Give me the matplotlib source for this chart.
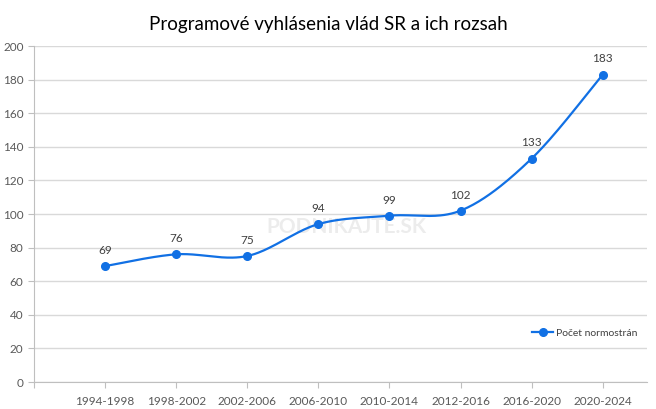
import numpy as np
import matplotlib
matplotlib.use("Agg")
import matplotlib.pyplot as plt

categories = ["1994-1998", "1998-2002", "2002-2006", "2006-2010",
              "2010-2014", "2012-2016", "2016-2020", "2020-2024"]
values = [69, 76, 75, 94, 99, 102, 133, 183]
y_ticks = [0, 20, 40, 60, 80, 100, 120, 140, 160, 180, 200]
series_name = "Počet normostrán"
title = "Programové vyhlásenia vlád SR a ich rozsah"

plt.rcParams['font.family'] = ['Lato', 'DejaVu Sans']

fig = plt.figure(figsize=(6.56, 4.09), dpi=100)
ax = fig.add_axes([0.0518, 0.066, 0.9342, 0.8215])

x = np.arange(len(values), dtype=float)
y = np.array(values, dtype=float)

# Excel-like smoothed line (Catmull-Rom bezier)
def smooth(xs, ys, n=40):
    px, py = [], []
    N = len(xs)
    for i in range(N - 1):
        p0 = (xs[max(i - 1, 0)], ys[max(i - 1, 0)])
        p1 = (xs[i], ys[i])
        p2 = (xs[i + 1], ys[i + 1])
        p3 = (xs[min(i + 2, N - 1)], ys[min(i + 2, N - 1)])
        c1 = (p1[0] + (p2[0] - p0[0]) / 6, p1[1] + (p2[1] - p0[1]) / 6)
        c2 = (p2[0] - (p3[0] - p1[0]) / 6, p2[1] - (p3[1] - p1[1]) / 6)
        t = np.linspace(0, 1, n)
        bx = (1-t)**3*p1[0] + 3*(1-t)**2*t*c1[0] + 3*(1-t)*t**2*c2[0] + t**3*p2[0]
        by = (1-t)**3*p1[1] + 3*(1-t)**2*t*c1[1] + 3*(1-t)*t**2*c2[1] + t**3*p2[1]
        px.extend(bx)
        py.extend(by)
    return np.array(px), np.array(py)

color = '#1170e4'
sx, sy = smooth(x, y)
ax.plot(sx, sy, color=color, lw=1.6, zorder=3)
ax.plot(x, y, 'o', color=color, ms=5.5, zorder=4)
ax.plot([], [], '-o', color=color, lw=1.6, ms=5.5, label=series_name)

for xi, yi in zip(x, y):
    ax.text(xi, yi + 6, str(int(yi)), ha='center', va='bottom', fontsize=8.5, color='#404040')

ax.set_xlim(-1, 7.62)
ax.set_ylim(0, 200)
ax.set_yticks(y_ticks)
ax.set_yticklabels([str(v) for v in y_ticks])
ax.set_xticks(np.arange(-1, len(values)))
ax.set_xticklabels([""] + categories)
ax.grid(axis='y', color='#d9d9d9', lw=1)
ax.set_axisbelow(True)
for s in ['top', 'right']:
    ax.spines[s].set_visible(False)
for s in ['left', 'bottom']:
    ax.spines[s].set_color('#bfbfbf')
ax.tick_params(axis='both', colors='#bfbfbf', labelcolor='#595959', labelsize=8.5, length=4)
ax.tick_params(axis='x', pad=6)

ax.text(3.4, 92.5, "PODNIKAJTE.SK", fontsize=15, fontweight='bold', color='#ececec',
        ha='center', va='center', zorder=1)

fig.text(0.5, 0.94, title, ha='center', va='center', fontsize=13.5, color='#000000')

leg = ax.legend(loc='center right', bbox_to_anchor=(1.0, 0.145), frameon=False,
                fontsize=7.5, handlelength=2.0, handletextpad=0.3)
for t in leg.get_texts():
    t.set_color('#404040')

fig.savefig("out.png", dpi=100)
